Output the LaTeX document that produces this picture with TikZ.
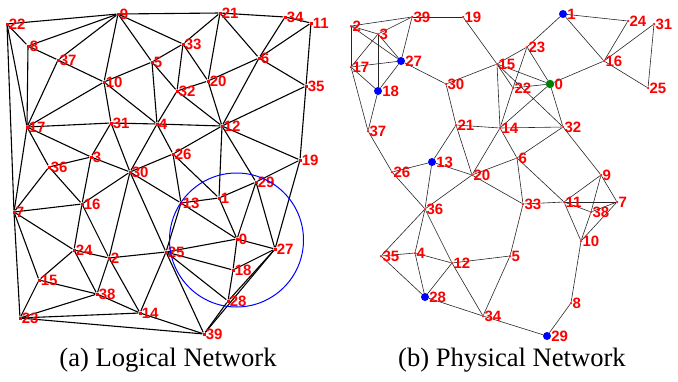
\documentclass[tikz,border=0pt]{standalone}
\usepackage{fontspec}
\setmainfont{Liberation Serif}
\newfontfamily\szamfont{Liberation Sans}
\usetikzlibrary{backgrounds}
\tikzset{
  szam/.style={text=red,font=\szamfont\bfseries\fontsize{15}{15}\selectfont,inner sep=0pt},
  lpont/.style={rectangle,fill=red,inner sep=0pt,minimum size=3pt,label distance=3pt},
  ppont/.style={circle,fill=red,inner sep=0pt,minimum size=2.5pt,label distance=3pt},
  kek/.style={circle,fill=blue,inner sep=0pt,minimum size=8pt,label distance=1.5pt},
  zold/.style={circle,fill=green!50!black,inner sep=0pt,minimum size=8.5pt,label distance=1.5pt},
  lel/.style={line width=1.1pt},
  pel/.style={line width=0.6pt,black!85},
  cimke/.style={font=\rmfamily\fontsize{26.6}{30}\selectfont,anchor=base},
}

\begin{document}
\begin{tikzpicture}[x=1pt,y=-1pt]
  \useasboundingbox (0,0) rectangle (678,381);
  % (a) logikai halozat
  \begin{scope}
    \foreach \n/\x/\y in {22/7/24, 9/118/14, 8/28/46, 37/58/60, 10/104/82, 5/152/62,
        17/27/127, 31/111/123, 4/157/124, 3/91/157, 36/49/167, 21/220/13, 34/285/17,
        11/311/23, 33/183/44, 6/259/58, 20/208/81, 32/177/91, 35/306/86, 12/222/126,
        26/173/154, 19/300/160, 30/130/172, 7/14/212, 16/82/204, 24/74/250, 2/109/258,
        15/39/280, 38/97/294, 14/140/313, 23/20/318, 25/166/252, 13/181/203, 1/219/198,
        29/256/182, 0/237/239, 27/275/249, 18/233/270, 28/228/301, 39/204/334}
      \node[lpont,label={[szam]right:\n}] (L\n) at (\x,\y) {};
    \begin{scope}[on background layer]
      \foreach \a/\b in {22/9, 22/8, 22/17, 22/7, 8/9, 8/37, 8/17, 9/37, 9/10, 9/5, 9/33, 9/21,
          37/10, 37/17, 10/17, 10/31, 10/5, 10/4, 5/33, 5/32, 5/4, 21/33, 21/20, 21/6, 21/34,
          34/11, 34/6, 11/6, 11/35, 33/32, 33/20, 6/20, 6/35, 6/12, 20/32, 20/12, 32/4, 32/12,
          35/12, 35/19, 4/31, 4/12, 4/26, 4/30, 31/17, 31/3, 31/30, 12/26, 12/1, 12/19, 12/29,
          26/30, 26/13, 26/1, 13/30, 13/1, 13/0, 13/25, 1/29, 1/0, 29/19, 29/0, 29/27, 19/27,
          0/25, 0/18, 0/27, 27/18, 27/28, 27/39, 18/25, 18/28, 28/25, 28/39, 25/39, 25/2,
          25/30, 25/14, 39/14, 39/23, 17/7, 17/36, 17/3, 7/36, 7/16, 7/24, 7/15, 7/23, 36/3,
          36/16, 3/16, 3/30, 16/30, 16/24, 16/2, 2/30, 2/24, 2/38, 2/14, 24/15, 24/38, 15/38,
          15/23, 38/23, 38/14, 14/23}
        \draw[lel] (L\a) -- (L\b);
    \end{scope}
    \draw[blue,line width=1pt] (236.5,240) circle[radius=67pt];
    \node[cimke] (capa) at (168,366) {(a) Logical Network};
  \end{scope}
  % (b) fizikai halozat
  \begin{scope}
    \foreach \n/\x/\y in {2/351/26, 3/378/34, 39/412/17, 19/463/17, 17/351/67, 30/446/84,
        15/497/64, 37/368/131, 21/456/125, 14/500/128, 26/392/172, 24/628/21, 31/654/24,
        23/527/47, 16/604/61, 22/513/88, 25/648/88, 32/563/127, 6/517/158, 20/472/175,
        33/523/204, 11/564/202, 9/601/175, 7/617/202, 38/591/212, 10/581/241, 5/510/256,
        8/571/303, 36/425/209, 35/381/256, 4/415/253, 12/452/263, 34/483/316}
      \node[ppont,label={[szam]right:\n}] (P\n) at (\x,\y) {};
    \foreach \n/\x/\y in {27/401/61, 18/378/91, 13/432/162, 1/563/14, 28/425/297, 29/547/336}
      \node[kek,label={[szam]right:\n}] (P\n) at (\x,\y) {};
    \node[zold,label={[szam]right:0}] (P0) at (550,84) {};
    \begin{scope}[on background layer]
      \foreach \a/\b in {2/39, 2/3, 2/17, 2/27, 3/39, 3/17, 3/18, 3/27, 39/19, 39/27, 17/27,
          17/18, 17/37, 18/27, 18/37, 27/30, 19/15, 30/15, 30/21, 15/23, 15/0, 15/32, 15/14,
          15/22, 23/1, 23/0, 23/22, 22/14, 22/0, 1/24, 1/16, 24/16, 16/31, 16/25, 16/0, 31/25,
          0/14, 0/32, 14/21, 14/32, 14/20, 14/6, 21/13, 21/20, 13/26, 13/20, 13/36, 26/36,
          26/37, 20/6, 20/33, 20/36, 6/32, 6/33, 6/11, 32/9, 33/11, 33/5, 11/9, 11/7, 11/38,
          11/10, 9/7, 9/38, 38/10, 7/38, 7/10, 10/8, 8/29, 5/12, 5/34, 12/4, 12/28, 12/36,
          12/34, 28/34, 34/29, 35/36, 35/4, 35/28, 4/36, 4/28}
        \draw[pel] (P\a) -- (P\b);
    \end{scope}
    \node[cimke] (capb) at (512,366) {(b) Physical Network};
  \end{scope}
\end{tikzpicture}
\end{document}
